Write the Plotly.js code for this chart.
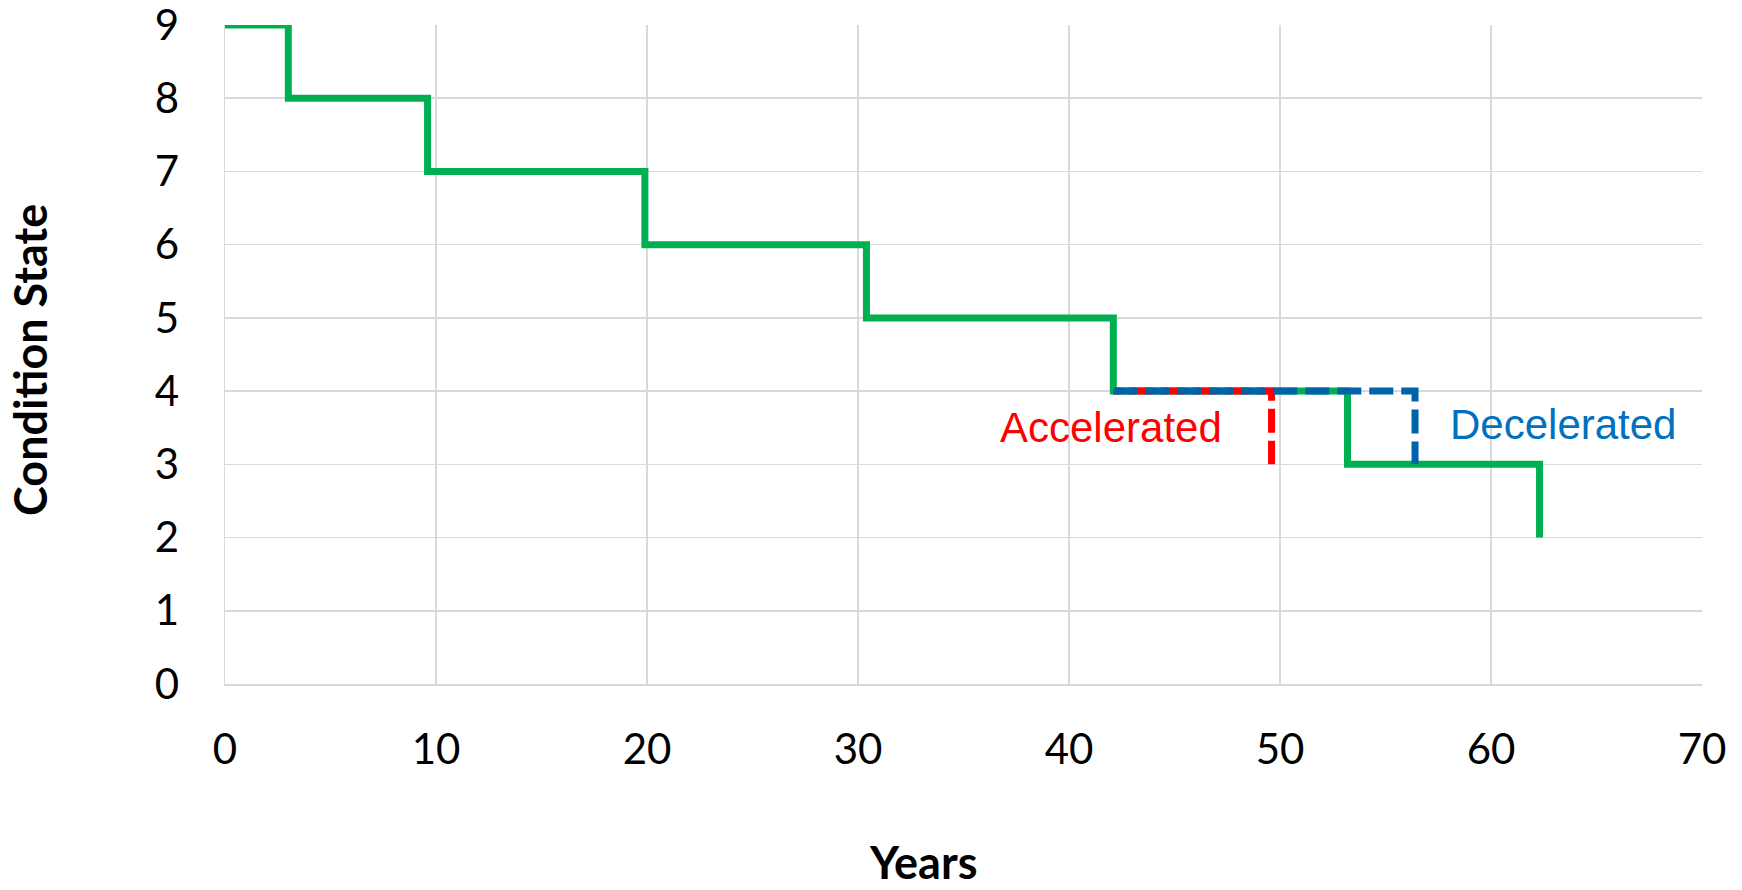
<!DOCTYPE html>
<html>
<head>
<meta charset="utf-8">
<script src="https://cdn.plot.ly/plotly-3.0.1.min.js"></script>
<style>
  html, body { margin: 0; padding: 0; background: #ffffff; }
  #chart { width: 1742px; height: 890px; }
</style>
</head>
<body>
<div id="chart"></div>
<script>
// Deterioration path: year at which each condition state is entered
const baseYears = [0, 3.0, 9.6, 19.9, 30.4, 42.1, 53.2, 62.3];
const baseStates = [9, 8, 7, 6, 5, 4, 3, 2];

// Alternative transitions out of state 4
const accelYears = [42.1, 49.6];
const accelStates = [4, 3];
const decelYears = [42.1, 56.4];
const decelStates = [4, 3];

const xTicks = [0, 10, 20, 30, 40, 50, 60, 70];
const yTicks = [0, 1, 2, 3, 4, 5, 6, 7, 8, 9];

const tickFont = { family: 'Lato, "Open Sans", sans-serif', size: 42, color: '#000000' };
const titleFont = { family: 'Lato, "Open Sans", sans-serif', size: 45, color: '#000000', weight: 'bold' };
const gridColor = '#d9d9d9';

const traces = [
  {
    x: baseYears, y: baseStates, mode: 'lines', type: 'scatter',
    line: { shape: 'hv', color: '#00B050', width: 7 },
    hoverinfo: 'skip', cliponaxis: false
  },
  {
    x: accelYears, y: accelStates, mode: 'lines', type: 'scatter',
    line: { shape: 'hv', color: '#FF0000', width: 7, dash: '8px,8px,16px,0px' },
    hoverinfo: 'skip'
  },
  {
    x: decelYears, y: decelStates, mode: 'lines', type: 'scatter',
    line: { shape: 'hv', color: '#0062A8', width: 7, dash: '24px,8px' },
    hoverinfo: 'skip'
  }
];

const layout = {
  width: 1742, height: 890,
  margin: { l: 225, r: 40, t: 25, b: 206 },
  paper_bgcolor: '#ffffff', plot_bgcolor: '#ffffff',
  showlegend: false,
  xaxis: {
    range: [0, 70], tickvals: xTicks, ticktext: xTicks.map(String),
    showgrid: true, gridcolor: gridColor, gridwidth: 1.5,
    showline: true, linecolor: gridColor, linewidth: 1.5,
    zeroline: false, ticks: '', tickfont: tickFont, ticklabelstandoff: 28,
    ticklabeloverflow: 'allow', fixedrange: true
  },
  yaxis: {
    range: [0, 9], tickvals: yTicks, ticktext: yTicks.map(String),
    showgrid: true, gridcolor: gridColor, gridwidth: 1.5,
    showline: true, linecolor: gridColor, linewidth: 1.5,
    zeroline: false, ticks: '', tickfont: tickFont, ticklabelstandoff: 36,
    ticklabeloverflow: 'allow', fixedrange: true
  },
  annotations: [
    {
      text: 'Years', xref: 'paper', yref: 'paper', x: 0.4726, y: -0.270,
      xanchor: 'center', yanchor: 'middle', showarrow: false, font: titleFont
    },
    {
      text: 'Condition State', xref: 'paper', yref: 'paper', x: -0.132, y: 0.4917,
      xanchor: 'center', yanchor: 'middle', showarrow: false, textangle: -90, font: titleFont
    },
    {
      text: 'Accelerated', xref: 'x', yref: 'y', x: 42.0, y: 3.5,
      xanchor: 'center', yanchor: 'middle', showarrow: false,
      font: { family: '"Liberation Sans", Arial, sans-serif', size: 42, color: '#FF0000' }
    },
    {
      text: 'Decelerated', xref: 'x', yref: 'y', x: 63.4, y: 3.54,
      xanchor: 'center', yanchor: 'middle', showarrow: false,
      font: { family: '"Liberation Sans", Arial, sans-serif', size: 42, color: '#0070C0' }
    }
  ]
};

Plotly.newPlot('chart', traces, layout, { staticPlot: true, displayModeBar: false });
</script>
</body>
</html>
